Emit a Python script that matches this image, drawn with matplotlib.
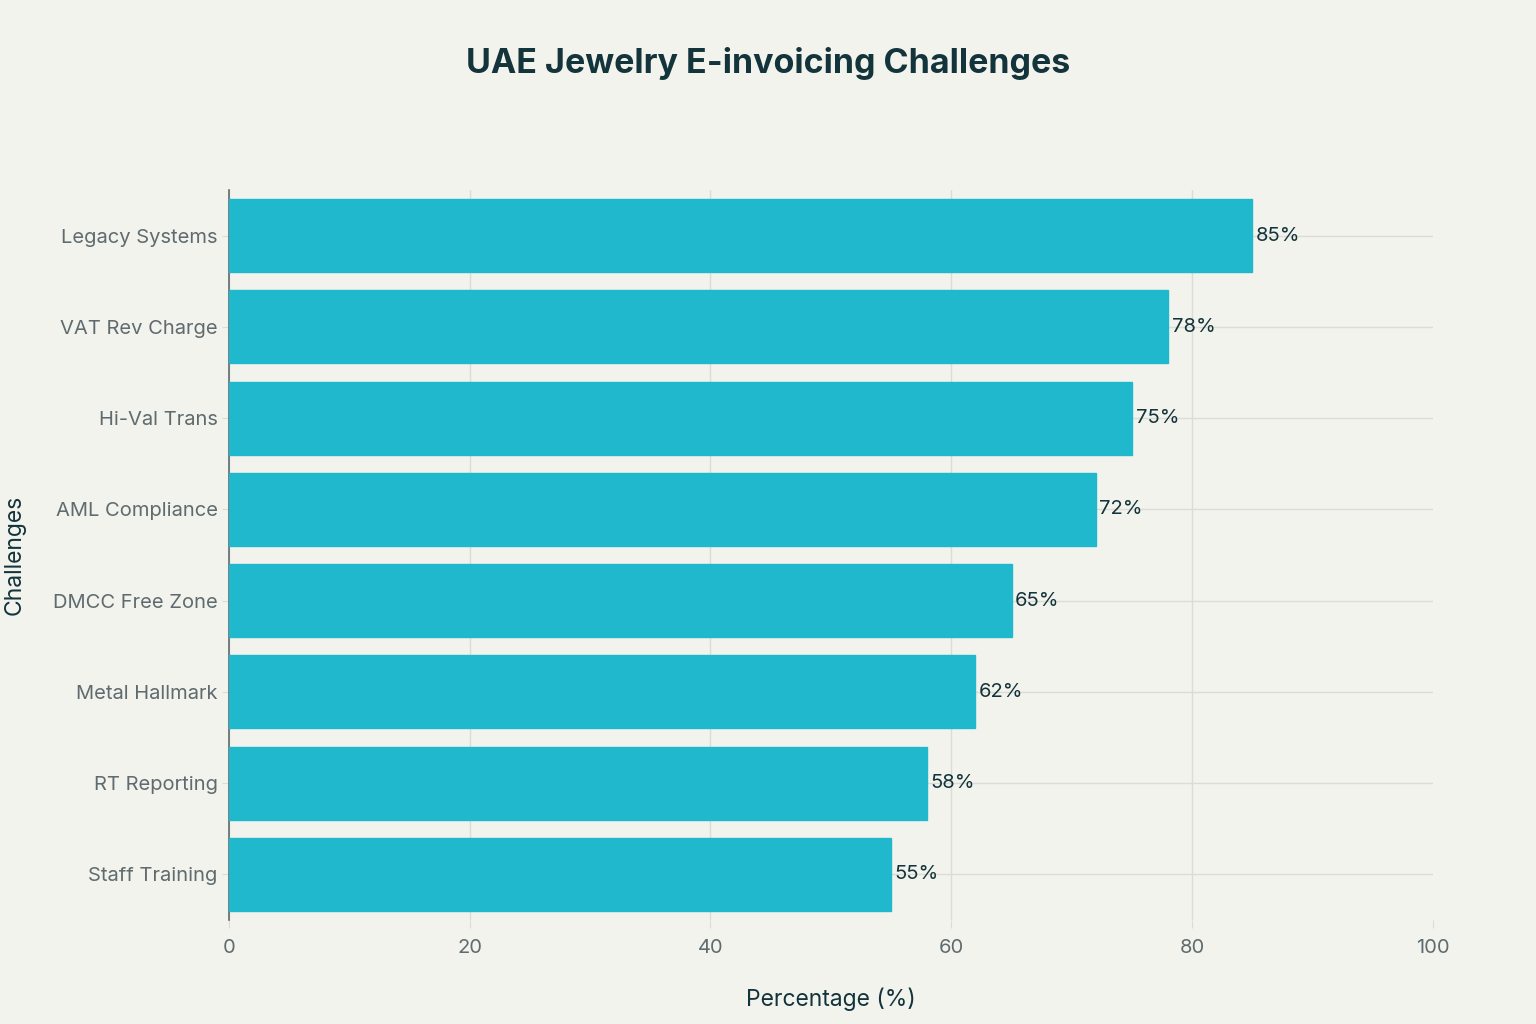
import matplotlib.pyplot as plt

# 数据
challenges = ["Legacy Systems", "VAT Rev Charge", "Hi-Val Trans", "AML Compliance",
              "DMCC Free Zone", "Metal Hallmark", "RT Reporting", "Staff Training"]
percentages = [85, 78, 75, 72, 65, 62, 58, 55]
x_ticks = [0, 20, 40, 60, 80, 100]

plt.rcParams['font.family'] = ['Inter', 'DejaVu Sans']

bg = "#F3F3EE"
fig = plt.figure(figsize=(15.36, 10.24), dpi=100, facecolor=bg)
ax = fig.add_axes([0.149, 0.1016, 0.7839, 0.7129], facecolor=bg)

pos = list(range(len(challenges)))
ax.barh(pos, percentages, height=0.8, color="#1FB8CD", edgecolor="#1FB8CD", zorder=3)

# 数值标签
for p, v in zip(pos, percentages):
    ax.text(v + 0.3, p, f"{v}%", va="center", ha="left", fontsize=14.5, color="#13343B", zorder=4)

ax.set_ylim(len(challenges) - 0.5, -0.5)
ax.set_xlim(0, 100)
ax.set_yticks(pos)
ax.set_yticklabels(challenges, fontsize=14.5, color="#5F6B6E")
ax.set_xticks(x_ticks)
ax.set_xticklabels([str(t) for t in x_ticks], fontsize=14.5, color="#5F6B6E")

ax.grid(True, color="#DCDCD6", linewidth=1, zorder=0)
ax.get_xgridlines()[-1].set_visible(False)
ax.tick_params(axis="x", length=6, color="#DCDCD6", pad=8)
ax.tick_params(axis="y", length=5, color="#DCDCD6", pad=3)
for s in ["top", "right", "bottom"]:
    ax.spines[s].set_visible(False)
ax.spines["left"].set_color("#5F6B6E")
ax.spines["left"].set_linewidth(1.2)

ax.set_xlabel("Percentage (%)", fontsize=16.5, color="#13343B", labelpad=22)
ax.set_ylabel("Challenges", fontsize=16.5, color="#13343B", labelpad=20)

fig.text(0.5, 0.938, "UAE Jewelry E-invoicing Challenges", ha="center", va="center",
         fontsize=24.5, fontweight="bold", color="#13343B")

fig.savefig("out.png", dpi=100, facecolor=bg)
